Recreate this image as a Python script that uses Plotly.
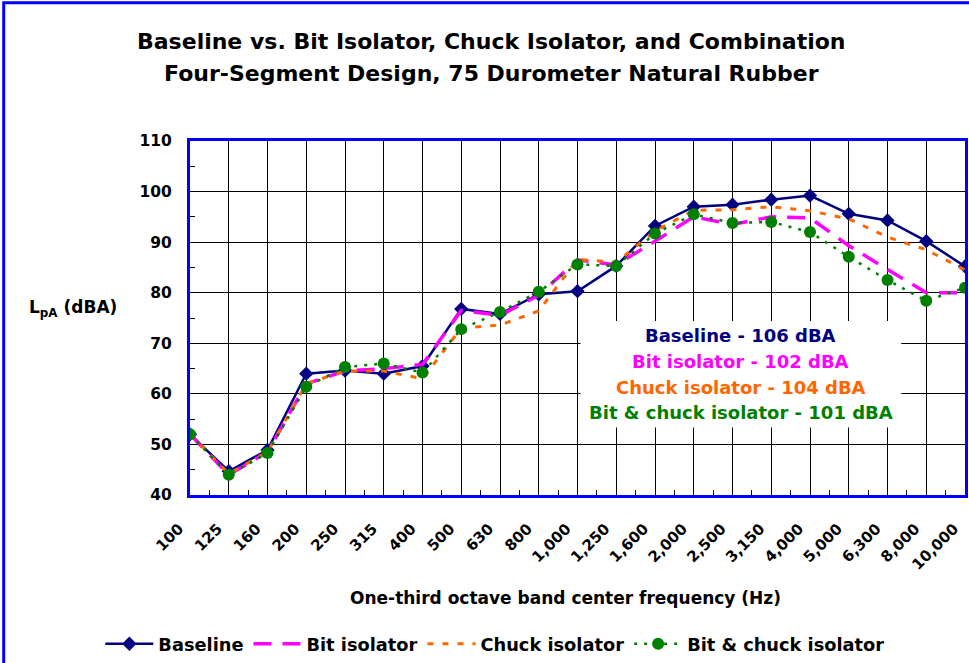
import plotly.graph_objects as go

# ---------------- data ----------------
freq_labels = ["100", "125", "160", "200", "250", "315", "400", "500", "630", "800",
               "1,000", "1,250", "1,600", "2,000", "2,500", "3,150", "4,000", "5,000",
               "6,300", "8,000", "10,000"]
baseline = [52.0, 44.7, 48.9, 64.0, 64.6, 64.0, 65.5, 76.8, 75.8, 79.7, 80.3,
            85.3, 93.2, 97.0, 97.4, 98.4, 99.2, 95.6, 94.3, 90.2, 85.2]
bit_isolator = [52.0, 44.0, 48.5, 62.0, 64.5, 65.0, 65.8, 76.5, 75.5, 79.5, 86.5,
                85.5, 90.2, 95.0, 93.5, 95.0, 94.8, 89.3, 84.6, 80.0, 80.0]
chuck_isolator = [52.0, 44.2, 48.5, 62.0, 64.5, 64.5, 63.0, 73.0, 73.6, 76.4, 86.6,
                  86.0, 92.2, 96.3, 96.4, 97.0, 96.2, 94.6, 91.0, 88.5, 84.5]
bit_chuck = [52.0, 44.0, 48.3, 61.4, 65.3, 66.0, 64.2, 72.8, 76.2, 80.2, 85.6,
             85.3, 91.7, 95.5, 93.8, 94.0, 92.0, 87.1, 82.5, 78.4, 81.0]
summary_lines = ["Baseline - 106 dBA", "Bit isolator - 102 dBA",
                 "Chuck isolator - 104 dBA", "Bit & chuck isolator - 101 dBA"]

NAVY = "#000080"
MAGENTA = "#FF00FF"
ORANGE = "#FF6600"
GREEN = "#008000"
BLUE = "#0000FF"
FONT = "DejaVu Sans"

x = list(range(len(freq_labels)))

fig = go.Figure()
fig.add_trace(go.Scatter(
    x=x, y=baseline, name="Baseline", mode="lines+markers",
    line=dict(color=NAVY, width=2.5),
    marker=dict(symbol="diamond", size=11, color=NAVY)))
fig.add_trace(go.Scatter(
    x=x, y=bit_isolator, name="Bit isolator", mode="lines",
    line=dict(color=MAGENTA, width=3.5, dash="18px,11px")))
fig.add_trace(go.Scatter(
    x=x, y=chuck_isolator, name="Chuck isolator", mode="lines",
    line=dict(color=ORANGE, width=3, dash="6px,9px")))
fig.add_trace(go.Scatter(
    x=x, y=bit_chuck, name="Bit & chuck isolator", mode="lines+markers",
    line=dict(color=GREEN, width=2.5, dash="3px,7px"),
    marker=dict(symbol="circle", size=12, color=GREEN)))

# plot-area pixel geometry: left 190, right 968, top 141, bottom 497
def px(xp):
    return (xp - 190) / 778.0

def py(yp):
    return (497 - yp) / 356.0

annotations = [
    dict(text="Baseline vs. Bit Isolator, Chuck Isolator, and Combination",
         x=px(493), y=py(41)),
    dict(text="Four-Segment Design, 75 Durometer Natural Rubber",
         x=px(493), y=py(73)),
]
for a in annotations:
    a.update(xref="paper", yref="paper", showarrow=False, xanchor="center",
             yanchor="middle", font=dict(family=FONT, size=22, color="black", weight="bold"))

annotations.append(dict(
    text="L<sub>pA</sub> (dBA)", x=px(119), y=py(309), xref="paper", yref="paper",
    showarrow=False, xanchor="right", yanchor="middle",
    font=dict(family=FONT, size=17, color="black", weight="bold")))
annotations.append(dict(
    text="One-third octave band center frequency (Hz)", x=px(567), y=py(601),
    xref="paper", yref="paper", showarrow=False, xanchor="center", yanchor="middle",
    font=dict(family=FONT, size=17, color="black", weight="bold")))

for txt, col, ypix in zip(summary_lines, [NAVY, MAGENTA, ORANGE, GREEN],
                          [337, 362.5, 388.5, 414.5]):
    annotations.append(dict(
        text=txt, x=px(743), y=py(ypix), xref="paper", yref="paper",
        showarrow=False, xanchor="center", yanchor="middle",
        font=dict(family=FONT, size=18, color=col, weight="bold")))

shapes = [
    # white box behind the summary text
    dict(type="rect", xref="paper", yref="paper", x0=px(582), x1=px(904),
         y0=py(429), y1=py(322), fillcolor="white", line=dict(width=0), layer="above"),
    # outer blue frame
    dict(type="rect", xref="paper", yref="paper", x0=px(3), x1=px(990),
         y0=py(690), y1=py(2), line=dict(color=BLUE, width=3),
         fillcolor="rgba(0,0,0,0)", layer="above"),
]

fig.update_layout(
    width=969, height=663,
    margin=dict(l=190, r=1, t=141, b=166),
    paper_bgcolor="white", plot_bgcolor="white",
    font=dict(family=FONT, color="black", weight="bold"),
    showlegend=True,
    legend=dict(orientation="h", x=px(100), xanchor="left", y=py(647), yanchor="middle",
                font=dict(family=FONT, size=17.8, color="black", weight="bold"),
                itemwidth=48, bgcolor="rgba(0,0,0,0)", traceorder="normal"),
    annotations=annotations,
    shapes=shapes,
)

fig.update_xaxes(
    range=[0, 20], tickmode="array", tickvals=x, ticktext=freq_labels,
    tickangle=-45, tickfont=dict(family=FONT, size=15, color="black", weight="bold"),
    showgrid=True, gridcolor="black", gridwidth=1, zeroline=False,
    showline=True, linecolor=BLUE, linewidth=3, mirror=True,
    ticks="inside", ticklen=5, tickcolor="black",
    ticklabelstandoff=16, ticklabelshift=-11, ticklabeloverflow="allow",
    minor=dict(tickmode="array", tickvals=[i + 0.5 for i in range(20)],
               ticks="inside", ticklen=5, tickcolor="black", showgrid=False),
)
fig.update_yaxes(
    range=[40, 110], tick0=40, dtick=10,
    tickfont=dict(family=FONT, size=15.5, color="black", weight="bold"),
    showgrid=True, gridcolor="black", gridwidth=1, zeroline=False,
    showline=True, linecolor=BLUE, linewidth=3, mirror=True,
    ticks="inside", ticklen=5, tickcolor="black", ticklabelstandoff=12,
    minor=dict(dtick=5, ticks="inside", ticklen=5, tickcolor="black", showgrid=False),
)

fig.write_html(
    "out.html",
    config={"displayModeBar": False},
    post_script="document.body.style.margin='0';document.body.style.overflow='hidden';",
)
